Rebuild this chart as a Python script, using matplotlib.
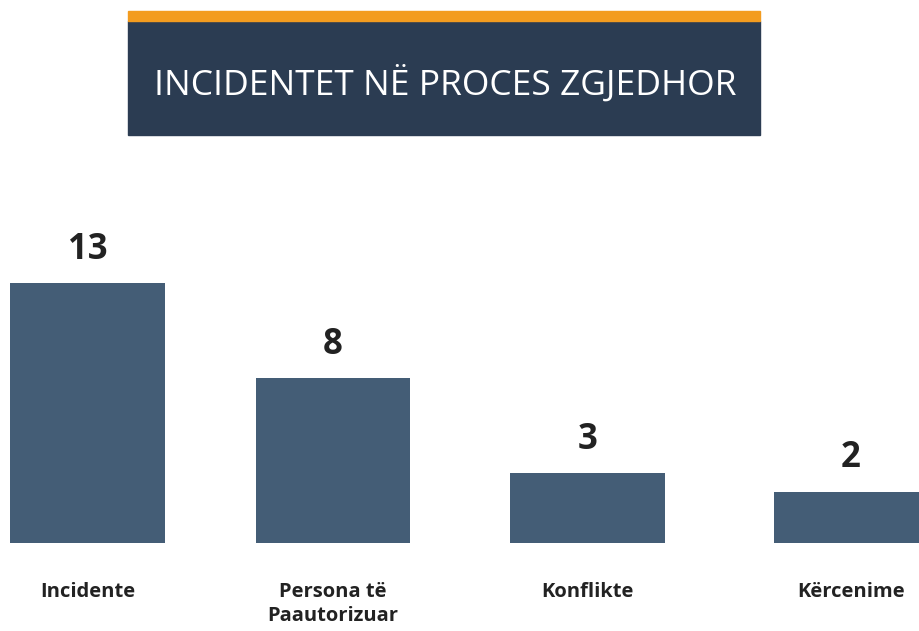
import matplotlib
matplotlib.use("Agg")
import matplotlib.pyplot as plt
from matplotlib.patches import Rectangle

categories = ["Incidente", "Persona të\nPaautorizuar", "Konflikte", "Kërcenime"]
values = [13, 8, 3, 2]
title = "INCIDENTET NË PROCES ZGJEDHOR"

W, H = 920, 631
fig = plt.figure(figsize=(W / 100, H / 100), dpi=100)
fig.patch.set_facecolor("white")

# Title box
fig.patches.append(Rectangle((128 / W, 1 - 135 / H), 632 / W, 114 / H,
                             transform=fig.transFigure, color="#2B3C52", zorder=1))
fig.patches.append(Rectangle((128 / W, 1 - 21 / H), 632 / W, 10 / H,
                             transform=fig.transFigure, color="#F39C1F", zorder=1))
fig.text(445 / W, 1 - 84 / H, title, ha="center", va="center", color="white",
         fontsize=25.5, family="Open Sans", fontweight="normal")

# Axes layout
px_per_unit = 254.7
x0 = 87.5
left_lim = -x0 / px_per_unit
right_lim = (W - x0) / px_per_unit
centers_px = [87.5, 333, 587.5, 851]
xs = [(c - x0) / px_per_unit for c in centers_px]
base = -0.7
ax = fig.add_axes([0, (H - 543) / H, 1, 260 / H])
ax.set_xlim(left_lim, right_lim)
ax.set_ylim(base, 13)
ax.bar(xs, [v - base for v in values], bottom=base, width=0.605, color="#445D76")
for x, v in zip(xs, values):
    ax.annotate(str(v), (x, v), xytext=(0, 11), textcoords="offset points",
                ha="center", va="bottom", fontsize=25, fontweight="bold",
                family="Open Sans", color="#222222", annotation_clip=False)
for x, c in zip(xs, categories):
    ax.annotate(c, (x, base), xytext=(0, -28), textcoords="offset points",
                ha="center", va="top", fontsize=14.5, fontweight="bold",
                family="Open Sans", color="#222222", annotation_clip=False,
                linespacing=1.3)
ax.axis("off")

fig.savefig("out.png", dpi=100, facecolor="white")
